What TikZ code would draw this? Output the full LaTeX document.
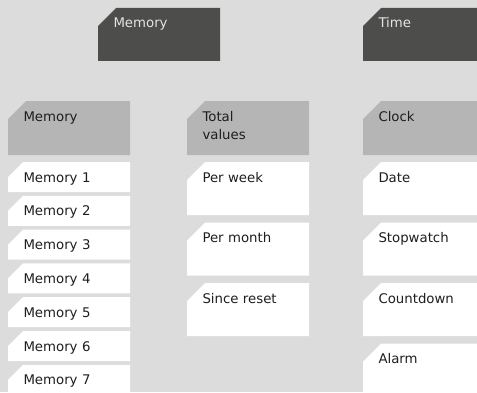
\documentclass[tikz,border=0pt]{standalone}
\usepackage{fontspec}
\setmainfont{DejaVu Sans}
\usepackage{tikz}
\usetikzlibrary{shapes.misc}
\usetikzlibrary{positioning}
\definecolor{darkhead}{RGB}{77,77,75}
\definecolor{greyhead}{RGB}{180,181,180}
\definecolor{bggrey}{RGB}{220,220,220}
\definecolor{headtext}{RGB}{228,228,228}
\definecolor{itemtext}{RGB}{30,30,30}
\tikzstyle{card}=[chamfered rectangle, chamfered rectangle corners=north west, chamfered rectangle xsep=9pt, chamfered rectangle ysep=9pt, minimum width=122pt, text width=91pt, inner xsep=6.5pt, inner ysep=0pt, outer sep=0pt, align=left, text height=11pt, font=\fontsize{13.3}{18}\selectfont, text=itemtext]
\tikzstyle{darkbox}=[card, fill=darkhead, text=headtext, minimum height=53pt, text depth=24pt]
\tikzstyle{greybox}=[card, fill=greyhead, minimum height=54pt, text depth=25pt]
\tikzstyle{slimbox}=[card, fill=white, minimum height=30pt, text depth=1pt]
\tikzstyle{tallbox}=[card, fill=white, minimum height=53pt, text depth=24pt]

\begin{document}
\begin{tikzpicture}

\useasboundingbox[fill=bggrey] (0,0) rectangle (477pt,392pt);
\clip (0,0) rectangle (477pt,392pt);

% top row
\node[darkbox, anchor=north](memtop) at (159pt,384pt){Memory};
\node[darkbox, anchor=north](timetop) at (424pt,384pt){Time};

% headers
\node[greybox, anchor=north](memhead) at (69pt,291pt){Memory};
\node[greybox](totalhead)[right=57pt of memhead]{Total\\values};
\node[greybox](clockhead)[right=54pt of totalhead]{Clock};

% memory list
\node[slimbox](mem1)[below=7pt of memhead]{Memory 1};
\node[slimbox](mem2)[below=3.8pt of mem1]{Memory 2};
\node[slimbox](mem3)[below=3.8pt of mem2]{Memory 3};
\node[slimbox](mem4)[below=3.8pt of mem3]{Memory 4};
\node[slimbox](mem5)[below=3.8pt of mem4]{Memory 5};
\node[slimbox](mem6)[below=3.8pt of mem5]{Memory 6};
\node[slimbox](mem7)[below=3.8pt of mem6]{Memory 7};

% total values
\node[tallbox](perweek)[below=7pt of totalhead]{Per week};
\node[tallbox](permonth)[below=7.5pt of perweek]{Per month};
\node[tallbox](sincereset)[below=7.5pt of permonth]{Since reset};

% clock
\node[tallbox](date)[below=7pt of clockhead]{Date};
\node[tallbox](stopwatch)[below=7.5pt of date]{Stopwatch};
\node[tallbox](countdown)[below=7.5pt of stopwatch]{Countdown};
\node[tallbox](alarm)[below=7.5pt of countdown]{Alarm};

\end{tikzpicture}
\end{document}
